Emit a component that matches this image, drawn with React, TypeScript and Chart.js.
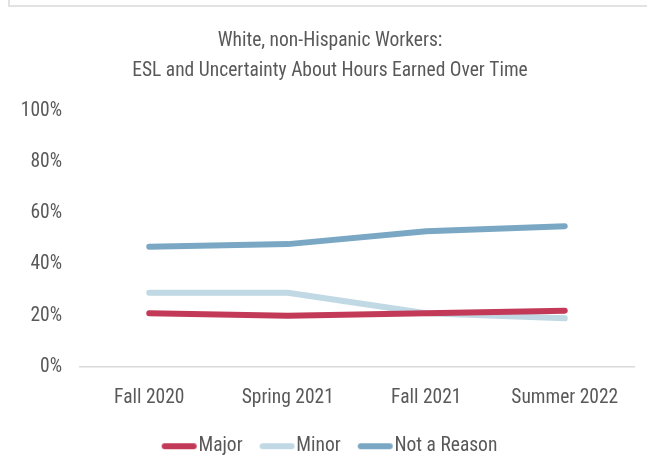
import React, { useEffect, useRef } from "react";
import { Chart, registerables } from "chart.js";

Chart.register(...registerables);

const categories = ["Fall 2020", "Spring 2021", "Fall 2021", "Summer 2022"];
const majorValues = [21, 20, 21, 22];
const minorValues = [29, 29, 21, 19];
const notReasonValues = [47, 48, 53, 55];
const yTicks = [0, 20, 40, 60, 80, 100];
const titleLines = ["White, non-Hispanic Workers:", "ESL and Uncertainty About Hours Earned Over Time"];

const COLORS = ["#C23A58", "#C0D9E4", "#7AA8C4"];
const TEXT = "#595959";
const FONT = "'Roboto Condensed', Roboto";
const FS = 19.5;

function legendSwatch(color: string): HTMLCanvasElement {
  const c = document.createElement("canvas");
  c.width = 66;
  c.height = 8;
  const g = c.getContext("2d")!;
  g.strokeStyle = color;
  g.lineWidth = 6;
  g.lineCap = "round";
  g.beginPath();
  g.moveTo(22, 4);
  g.lineTo(51, 4);
  g.stroke();
  return c;
}

export default function App() {
  const ref = useRef<HTMLCanvasElement | null>(null);
  useEffect(() => {
    document.body.style.margin = "0";
    const names = ["Major", "Minor", "Not a Reason"];
    const values = [majorValues, minorValues, notReasonValues];
    const swatches = COLORS.map(legendSwatch);
    const chart = new Chart(ref.current!, {
      type: "line",
      data: {
        labels: categories,
        datasets: names.map((n, i) => ({
          label: n,
          data: values[i],
          borderColor: COLORS[i],
          backgroundColor: COLORS[i],
          borderWidth: 6,
          borderCapStyle: "round",
          borderJoinStyle: "round",
          pointRadius: 0,
          tension: 0,
        })),
      },
      options: {
        animation: false,
        responsive: false,
        layout: { padding: { top: 0, right: 7, bottom: 4, left: 20 } },
        plugins: {
          title: {
            display: true,
            text: titleLines,
            color: TEXT,
            font: { family: FONT, size: FS, weight: "normal", lineHeight: "30px" },
            padding: { top: 26, bottom: 25 },
          },
          legend: {
            position: "bottom",
            labels: {
              color: TEXT,
              font: { family: FONT, size: FS },
              usePointStyle: true,
              pointStyleWidth: 26,
              boxHeight: 8,
              padding: 18,
              generateLabels: (ch: any) =>
                ch.data.datasets.map((d: any, i: number) => ({
                  text: d.label,
                  fillStyle: COLORS[i],
                  strokeStyle: COLORS[i],
                  lineWidth: 0,
                  pointStyle: swatches[i],
                  datasetIndex: i,
                  hidden: false,
                  fontColor: TEXT,
                })),
            },
          },
          tooltip: { enabled: false },
        },
        scales: {
          x: {
            offset: true,
            afterFit: (s: any) => {
              s.height = 51.5;
            },
            grid: { display: false, drawTicks: false },
            border: { display: true, color: "#D9D9D9", width: 1.5 },
            ticks: { color: TEXT, font: { family: FONT, size: FS }, padding: 19.5, maxRotation: 0 },
          },
          y: {
            min: 0,
            max: 100,
            afterFit: (s: any) => {
              s.width = 60;
            },
            afterBuildTicks: (s: any) => {
              s.ticks = yTicks.map((v) => ({ value: v }));
            },
            grid: { display: false, drawTicks: false },
            border: { display: false },
            ticks: {
              color: TEXT,
              font: { family: FONT, size: FS },
              padding: 18,
              callback: (v: any) => v + "%",
            },
          },
          yRight: {
            type: "linear",
            position: "right",
            min: 0,
            max: 100,
            afterFit: (s: any) => {
              s.width = 6;
            },
            grid: { display: false, drawTicks: false },
            border: { display: false },
            ticks: { display: false },
          },
        },
      },
    });
    return () => chart.destroy();
  }, []);
  return (
    <div style={{ position: "relative", width: 647, height: 470, background: "#fff" }}>
      <div
        style={{
          position: "absolute",
          left: 8,
          top: 0,
          width: 639,
          height: 5,
          borderLeft: "2px solid #E2E2E2",
          borderBottom: "2px solid #E2E2E2",
        }}
      />
      <canvas ref={ref} width={647} height={470} style={{ display: "block" }} />
    </div>
  );
}
